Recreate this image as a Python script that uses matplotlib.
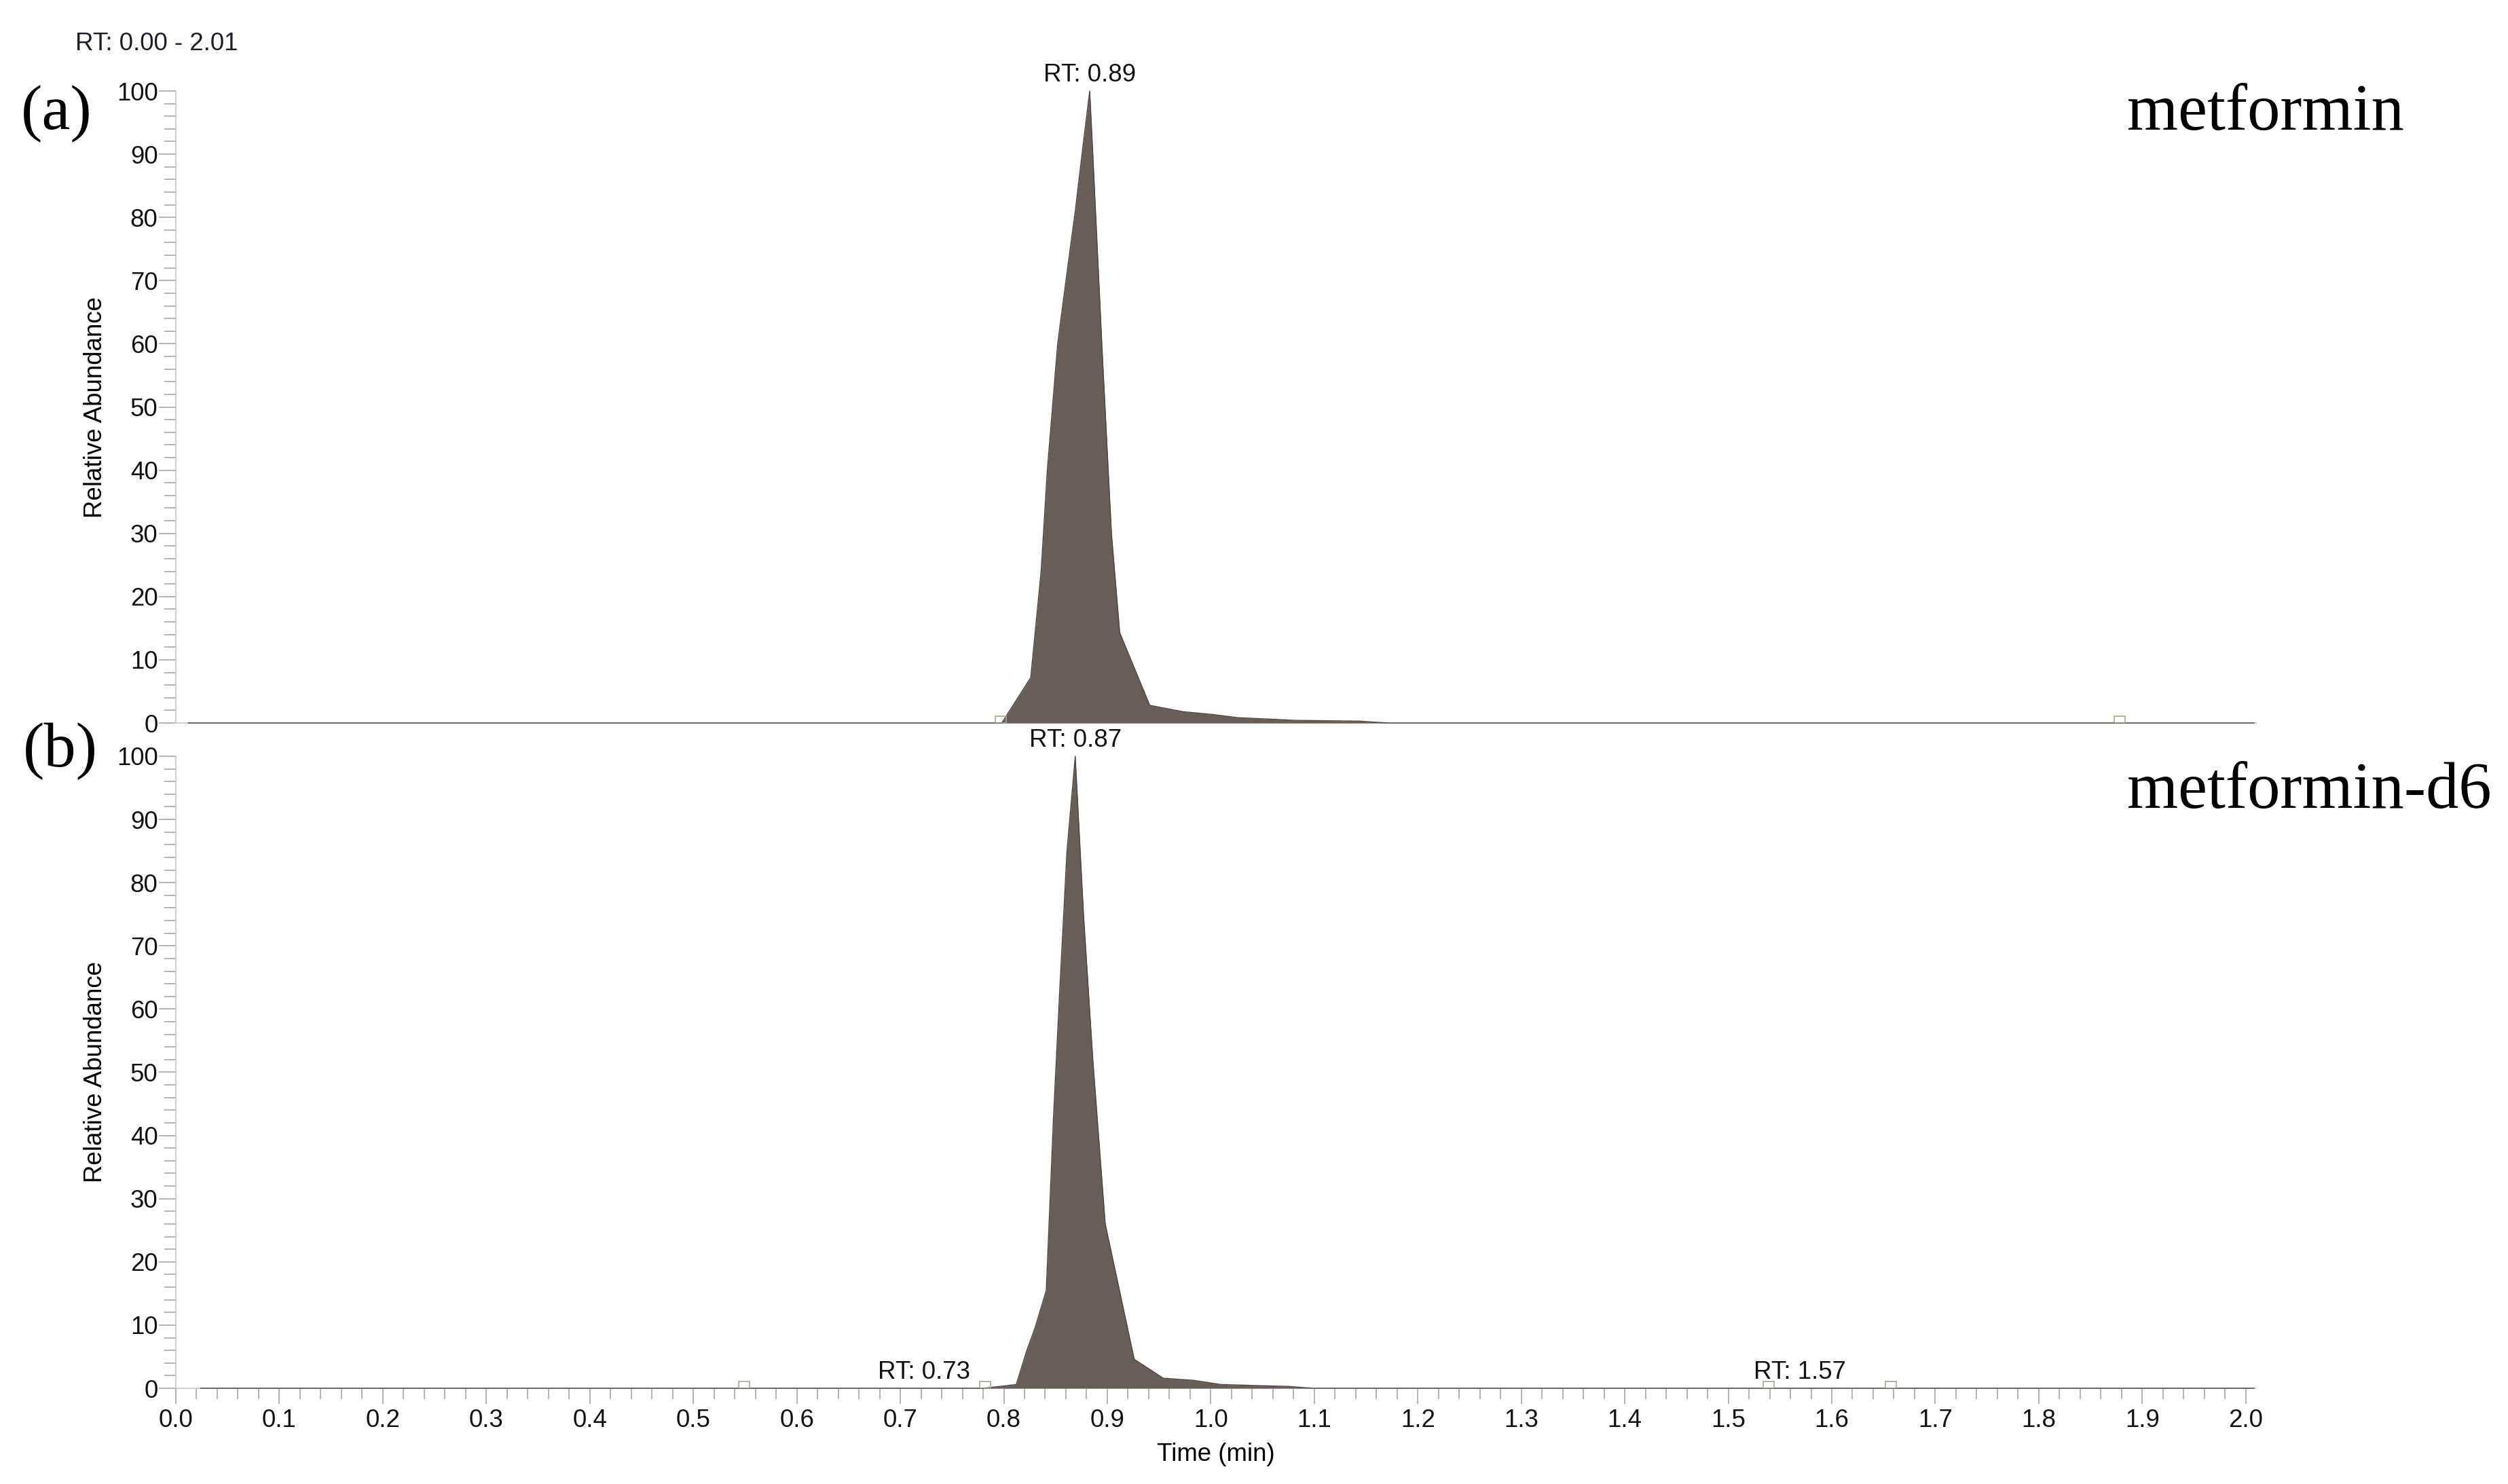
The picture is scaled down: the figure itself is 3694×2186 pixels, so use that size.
import numpy as np
import matplotlib.pyplot as plt
from matplotlib.patches import Rectangle
from matplotlib.ticker import MultipleLocator

# Chromatogram traces (time in min, relative abundance in %)
t_a = [0.012, 0.798, 0.826, 0.836, 0.842, 0.852, 0.860, 0.869, 0.877, 0.883,
       0.886, 0.895, 0.904, 0.912, 0.941, 0.973, 1.002, 1.026, 1.083, 1.144,
       1.171, 2.008]
ab_a = [0, 0, 7.2, 24, 40, 60, 70, 81, 92, 100,
        90, 59, 30, 14.3, 2.8, 1.8, 1.35, 0.85, 0.42, 0.3,
        0, 0]

t_b = [0.024, 0.780, 0.812, 0.822, 0.830, 0.841, 0.848, 0.854, 0.861, 0.869,
       0.877, 0.886, 0.898, 0.926, 0.954, 0.983, 1.010, 1.042, 1.075, 1.099,
       2.008]
ab_b = [0, 0, 0.6, 5.9, 9.5, 15.5, 43, 63, 85, 100,
        75, 52, 26, 4.6, 1.6, 1.27, 0.6, 0.45, 0.3, 0,
        0]

# peak labels
rt_a_x = [0.883]
rt_a_y = [100]
rt_a_txt = ["RT: 0.89"]
rt_b_x = [0.869, 0.723, 1.569]
rt_b_y = [100, 0, 0]
rt_b_txt = ["RT: 0.87", "RT: 0.73", "RT: 1.57"]

# small peak boundary markers
mark_a = [0.797, 1.878]
mark_b = [0.549, 0.782, 1.539, 1.657]

names = ["metformin", "metformin-d6"]
panels = ["(a)", "(b)"]

fill_col = "#695d57"
grey = "#a0a0a0"
sans = "Liberation Sans"
serif = "Liberation Serif"
fs = 13.2

W, H = 3694, 2186
fig = plt.figure(figsize=(W / 200, H / 200), dpi=200)
left, width = 259 / W, 3064 / W
ax_a = fig.add_axes([left, 0.5128, width, 0.4259])
ax_b = fig.add_axes([left, 0.0645, width, 0.4259])


def style(ax, show_x):
    ax.set_xlim(0, 2.01)
    ax.set_ylim(0, 100)
    for s in ["top", "right"]:
        ax.spines[s].set_visible(False)
    ax.spines["left"].set_color("#c8c8c8")
    ax.spines["bottom"].set_color("#c8c8c8")
    ax.spines["left"].set_linewidth(0.6)
    ax.spines["bottom"].set_linewidth(0.6)
    ax.yaxis.set_major_locator(MultipleLocator(10))
    ax.yaxis.set_minor_locator(MultipleLocator(2))
    ax.tick_params(axis="y", which="major", length=9, width=0.55, color=grey,
                   pad=0.5, labelsize=fs, labelcolor="#111111")
    ax.tick_params(axis="y", which="minor", length=6.2, width=0.55, color=grey)
    ax.set_ylabel("Relative Abundance", fontsize=fs, family=sans)
    ax.yaxis.set_label_coords(-0.033, 0.5)
    if show_x:
        ax.xaxis.set_major_locator(MultipleLocator(0.1))
        ax.xaxis.set_minor_locator(MultipleLocator(0.02))
        ax.tick_params(axis="x", which="major", length=8.4, width=0.55, color=grey,
                       pad=2.5, labelsize=fs, labelcolor="#111111")
        ax.tick_params(axis="x", which="minor", length=5.8, width=0.55, color=grey)
        ax.set_xticks(np.arange(0, 2.01, 0.1))
        ax.set_xticklabels([f"{v:.1f}" for v in np.arange(0, 2.01, 0.1)])
        ax.set_xlabel("Time (min)", fontsize=fs, family=sans)
        ax.xaxis.set_label_coords(0.5, -0.086)
    else:
        ax.tick_params(axis="x", which="both", bottom=False, labelbottom=False)
    for lbl in ax.get_xticklabels() + ax.get_yticklabels():
        lbl.set_family(sans)


def trace(ax, t, ab, marks, rx, ry, rtxt):
    ax.fill_between(t, ab, 0, color=fill_col, linewidth=0, clip_on=False, zorder=3)
    ax.plot(t, ab, color="#4f4540", linewidth=0.5, clip_on=False, zorder=4)
    ax.plot(t, np.zeros(len(t)), color="#9a9a9a", linewidth=0.8, zorder=2)
    for m in marks:
        ax.add_patch(Rectangle((m - 0.0052, 0), 0.0105, 1.1, fill=False,
                               edgecolor="#a8a890", linewidth=0.6, zorder=5))
    for x, y, s in zip(rx, ry, rtxt):
        ax.annotate(s, xy=(x, y), xytext=(0, 2), textcoords="offset points",
                    ha="center", va="bottom", fontsize=fs, family=sans,
                    color="#111111", annotation_clip=False)


style(ax_a, False)
style(ax_b, True)
trace(ax_a, t_a, ab_a, mark_a, rt_a_x, rt_a_y, rt_a_txt)
trace(ax_b, t_b, ab_b, mark_b, rt_b_x, rt_b_y, rt_b_txt)

fig.text(111 / W, 1 - 64 / H, "RT: 0.00 - 2.01", fontsize=fs, family=sans,
         color="#221c2a", va="center", ha="left")
fig.text(31 / W, 1 - 168 / H, panels[0], fontsize=34, family=serif, va="center", ha="left")
fig.text(34 / W, 1 - 1107 / H, panels[1], fontsize=34, family=serif, va="center", ha="left")
fig.text(3133 / W, 1 - 191 / H, names[0], fontsize=34.8, family=serif,
         va="baseline", ha="left")
fig.text(3133 / W, 1 - 1190 / H, names[1], fontsize=34.8, family=serif,
         va="baseline", ha="left")

fig.savefig("out.png", dpi=200, facecolor="white")
